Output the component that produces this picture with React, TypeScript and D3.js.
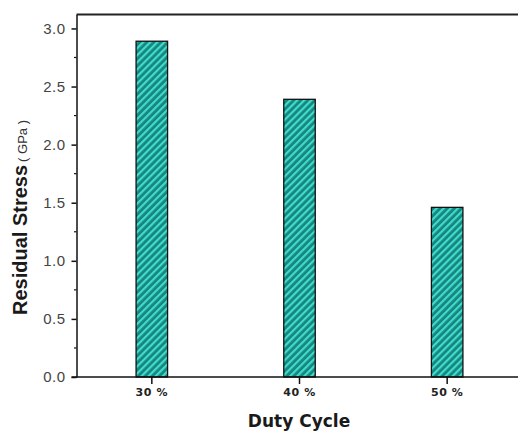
import {useEffect, useRef} from 'react';
import * as d3 from 'd3';

const categories = ['30 %', '40 %', '50 %'];
const stress = [2.89, 2.39, 1.46];
const yTicks = [0, 0.5, 1.0, 1.5, 2.0, 2.5, 3.0];
const yMinorTicks = [0.25, 0.75, 1.25, 1.75, 2.25, 2.75];

export default function App() {
    const ref = useRef<SVGSVGElement | null>(null);

    useEffect(() => {
        const width = 518;
        const height = 433;
        const svg = d3.select(ref.current);
        svg.selectAll('*').remove();
        svg.attr('width', width).attr('height', height).attr('viewBox', `0 0 ${width} ${height}`);

        const left = 76.5;
        const top = 14.5;
        const bottom = 377;

        const x = d3.scaleBand().domain(categories).range([left + 1.5, 521]).padding(0);
        const y = d3.scaleLinear().domain([0, 3.12]).range([bottom, top]);
        const barW = 31.5;

        // hatch pattern
        const defs = svg.append('defs');
        const pat = defs
            .append('pattern')
            .attr('id', 'hatch')
            .attr('patternUnits', 'userSpaceOnUse')
            .attr('width', 5)
            .attr('height', 5)
            .attr('patternTransform', 'rotate(45)');
        pat.append('rect').attr('width', 5).attr('height', 5).attr('fill', '#17857d');
        pat.append('rect').attr('x', 0).attr('width', 2.2).attr('height', 5).attr('fill', '#3fdccd');

        // bars
        svg
            .selectAll('.bar')
            .data(categories)
            .enter()
            .append('rect')
            .attr('x', (d) => x(d)! + x.bandwidth() / 2 - barW / 2)
            .attr('y', (d, i) => y(stress[i]))
            .attr('width', barW)
            .attr('height', (d, i) => bottom - y(stress[i]))
            .attr('fill', 'url(#hatch)')
            .attr('stroke', '#111')
            .attr('stroke-width', 1.3);

        // top frame line
        svg
            .append('line')
            .attr('x1', left)
            .attr('x2', width)
            .attr('y1', top)
            .attr('y2', top)
            .attr('stroke', '#222')
            .attr('stroke-width', 2);

        // y axis
        const yAxis = svg
            .append('g')
            .attr('transform', `translate(${left}, 0)`)
            .call(
                d3
                    .axisLeft(y)
                    .tickValues(yTicks)
                    .tickSize(5)
                    .tickSizeOuter(0)
                    .tickPadding(6)
                    .tickFormat(d3.format('.1f'))
            );
        yAxis.select('.domain').attr('stroke', '#111').attr('stroke-width', 1.5);
        yAxis.selectAll('.tick line').attr('stroke', '#111').attr('stroke-width', 1.5);
        yAxis
            .selectAll('.tick text')
            .attr('font-family', 'Liberation Sans, Arial, sans-serif')
            .attr('font-size', 15)
            .attr('letter-spacing', 0.5)
            .attr('fill', '#444');

        svg
            .append('g')
            .selectAll('line')
            .data(yMinorTicks)
            .enter()
            .append('line')
            .attr('x1', left - 2.5)
            .attr('x2', left)
            .attr('y1', (d) => y(d))
            .attr('y2', (d) => y(d))
            .attr('stroke', '#111')
            .attr('stroke-width', 1.2);

        // x axis
        const xAxis = svg
            .append('g')
            .attr('transform', `translate(0, ${bottom})`)
            .call(d3.axisBottom(x).tickSize(7).tickSizeOuter(0).tickPadding(4));
        xAxis.select('.domain').remove();
        xAxis.selectAll('.tick line').attr('stroke', '#111').attr('stroke-width', 1.5);
        xAxis
            .selectAll('.tick text')
            .attr('font-family', 'DejaVu Sans, sans-serif')
            .attr('font-weight', 'bold')
            .attr('font-size', 11)
            .attr('letter-spacing', 0.6)
            .attr('fill', '#222');
        svg
            .append('line')
            .attr('x1', left - 5)
            .attr('x2', width)
            .attr('y1', bottom)
            .attr('y2', bottom)
            .attr('stroke', '#111')
            .attr('stroke-width', 1.5);

        // axis titles
        svg
            .append('text')
            .attr('x', 299)
            .attr('y', 427)
            .attr('text-anchor', 'middle')
            .attr('font-family', 'DejaVu Sans, sans-serif')
            .attr('font-weight', 'bold')
            .attr('font-size', 17)
            .attr('fill', '#1a1a1a')
            .text('Duty Cycle');

        const yt = svg
            .append('text')
            .attr('transform', 'translate(27, 315) rotate(-90)')
            .attr('font-family', 'Liberation Sans, Arial, sans-serif')
            .attr('fill', '#1a1a1a');
        yt.append('tspan').attr('font-weight', 'bold').attr('font-size', 20).text('Residual Stress');
        yt.append('tspan').attr('font-size', 13).attr('dx', 3).attr('fill', '#333').text('( GPa )');
    }, []);

    return (
        <div style={{position: 'fixed', left: 0, top: 0}}>
            <svg ref={ref} style={{display: 'block', background: '#fff'}}></svg>
        </div>
    );
}
